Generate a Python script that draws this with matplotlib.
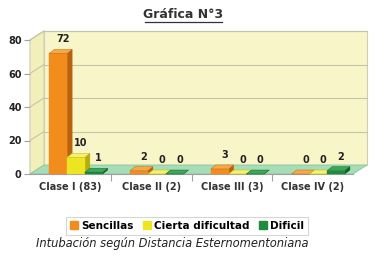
import matplotlib
matplotlib.use("Agg")
import matplotlib.pyplot as plt
from matplotlib.patches import Polygon

# Data
categories = ["Clase I (83)", "Clase II (2)", "Clase III (3)", "Clase IV (2)"]
series_names = ["Sencillas", "Cierta dificultad", "Dificil"]
sencillas = [72, 2, 3, 0]
cierta = [10, 0, 0, 0]
dificil = [1, 0, 0, 2]
yticks = [0, 20, 40, 60, 80]

series = [sencillas, cierta, dificil]
# front, side, top colours per series
colors = [("#f28c1c", "#b8620c", "#f7a84a"),
          ("#ece622", "#b5ad10", "#f4f070"),
          ("#1e8a3c", "#0f5e24", "#3aa858")]

W, H = 380, 256
fig = plt.figure(figsize=(W / 100, H / 100), dpi=100)

# axes placed in pixel terms: front plot area
x0, x1 = 30, 353
y0, y1 = 174, 40
ax = fig.add_axes([x0 / W, 1 - y0 / H, (x1 - x0) / W, (y0 - y1) / H])
ax.set_xlim(0, 4)
ax.set_ylim(0, 80)

px_x = 4 / (x1 - x0)
px_y = 80 / (y0 - y1)
ddx, ddy = 14 * px_x, 9 * px_y      # wall depth
bdx, bdy = 5 * px_x, 4 * px_y       # bar depth

wall = "#f8f5c8"
side = "#f3efba"
edge = "#cfcfb4"
grid = "#c4c4a8"

# back wall, left wall, floor
ax.add_patch(Polygon([(ddx, ddy), (4 + ddx, ddy), (4 + ddx, 80 + ddy), (ddx, 80 + ddy)],
                     closed=True, fc=wall, ec=edge, lw=0.8, clip_on=False, zorder=1))
ax.add_patch(Polygon([(0, 0), (ddx, ddy), (ddx, 80 + ddy), (0, 80)],
                     closed=True, fc=side, ec=edge, lw=0.8, clip_on=False, zorder=1))
for t in yticks[1:]:
    ax.plot([ddx, 4 + ddx], [t + ddy, t + ddy], color=grid, lw=0.8,
            clip_on=False, zorder=2)
    ax.plot([0, ddx], [t, t + ddy], color=grid, lw=0.8, clip_on=False, zorder=2)
ax.add_patch(Polygon([(0, 0), (4, 0), (4 + ddx, ddy), (ddx, ddy)],
                     closed=True, fc="#a6dcb6", ec="#8cc49c", lw=0.6, clip_on=False, zorder=2))

# bars
bw = 0.22
offs = [0.24, 0.46, 0.68]
for s, vals in enumerate(series):
    cf, cs, ct = colors[s]
    for i, v in enumerate(vals):
        xl = i + offs[s]
        xr = xl + bw
        z = 3 + s * 0.1
        ax.add_patch(Polygon([(xr, 0), (xr + bdx, bdy), (xr + bdx, v + bdy), (xr, v)],
                             closed=True, fc=cs, ec=cs, lw=0.3, clip_on=False, zorder=z))
        ax.add_patch(Polygon([(xl, 0), (xr, 0), (xr, v), (xl, v)],
                             closed=True, fc=cf, ec=cf, lw=0.3, clip_on=False, zorder=z))
        ax.add_patch(Polygon([(xl, v), (xr, v), (xr + bdx, v + bdy), (xl + bdx, v + bdy)],
                             closed=True, fc=ct, ec=cs, lw=0.3, clip_on=False, zorder=z))
        ax.text((xl + xr) / 2 + bdx, v + bdy + 3, str(v), ha="center", va="bottom",
                fontsize=7, fontweight="bold", color="#222222", zorder=6)

# axes styling
for sp in ["top", "right"]:
    ax.spines[sp].set_visible(False)
ax.spines["left"].set_color("#a0a0a0")
ax.spines["bottom"].set_color("#a0a0a0")
ax.spines["left"].set_linewidth(0.8)
ax.spines["bottom"].set_linewidth(0.8)
ax.spines["left"].set_zorder(0)
ax.set_yticks(yticks)
ax.set_yticklabels([str(t) for t in yticks], fontsize=7, fontweight="bold", color="#222222")
ax.tick_params(axis="y", length=4, color="#a0a0a0", pad=2)
ax.set_xticks([1, 2, 3])
ax.set_xticklabels([])
ax.tick_params(axis="x", which="major", length=5, color="#a0a0a0")
ax.set_xticks([i + 0.5 for i in range(4)], minor=True)
ax.set_xticklabels(categories, minor=True, fontsize=7, fontweight="bold", color="#333333")
ax.tick_params(axis="x", which="minor", length=0, pad=6)
ax.patch.set_visible(False)

# title
fig.text(183 / W, 1 - 14 / H, "Gráfica N°3", ha="center", va="center",
         fontsize=9, fontweight="bold", color="#333333")
fig.add_artist(plt.Line2D([145 / W, 222 / W], [1 - 22 / H, 1 - 22 / H],
                          color="#333333", lw=0.9))

# legend
handles = [plt.Line2D([], [], marker="s", ls="", ms=6, mfc=colors[k][0], mec=colors[k][0])
           for k in range(3)]
leg = fig.legend(handles, series_names, loc="center", ncol=3,
                 bbox_to_anchor=(187 / W, 1 - 226 / H), frameon=True, fancybox=False,
                 handlelength=0.8, handletextpad=0.3, columnspacing=0.9,
                 borderpad=0.35, prop={"size": 7.5, "weight": "bold"})
leg.get_frame().set_edgecolor("#cccccc")
leg.get_frame().set_linewidth(0.8)

# caption
fig.text(172 / W, 1 - 243 / H, "Intubación según Distancia Esternomentoniana",
         ha="center", va="center", fontsize=8.3, style="italic", color="#222222")

fig.savefig("out.png", dpi=100, facecolor="white")
